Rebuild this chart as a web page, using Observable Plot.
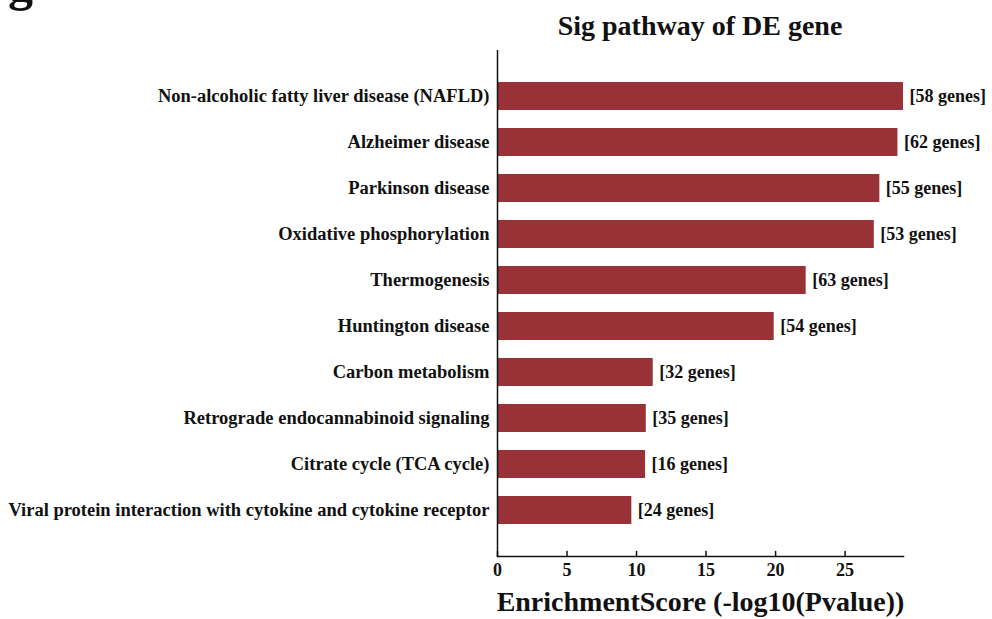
<!DOCTYPE html>
<html>
<head>
<meta charset="utf-8">
<script src="https://cdn.jsdelivr.net/npm/d3@7"></script>
<script src="https://cdn.jsdelivr.net/npm/@observablehq/plot@0.6"></script>
<style>
  html, body { margin: 0; padding: 0; background: #fff; }
  #wrap { position: relative; width: 992px; height: 619px; overflow: hidden; font-family: "Liberation Serif", "Times New Roman", serif; font-weight: bold; color: #111; }
  #panel { position: absolute; left: 8px; top: -42px; font-size: 50px; line-height: 50px; }
  #title { height: 48px; box-sizing: border-box; padding-top: 12px; line-height: 28px; font-size: 28px; padding-left: 497px; width: 903px; text-align: center; }
  #title span { display: inline-block; }
  svg { display: block; }
</style>
</head>
<body>
<div id="wrap">
  <div id="panel">g</div>
  <div id="title"><span>Sig pathway of DE gene</span></div>
  <div id="chart"></div>
</div>
<script>
// KEGG pathways enriched among differentially expressed genes
const pathways = [
  "Non-alcoholic fatty liver disease (NAFLD)",
  "Alzheimer disease",
  "Parkinson disease",
  "Oxidative phosphorylation",
  "Thermogenesis",
  "Huntington disease",
  "Carbon metabolism",
  "Retrograde endocannabinoid signaling",
  "Citrate cycle (TCA cycle)",
  "Viral protein interaction with cytokine and cytokine receptor"
];
// -log10(P value)
const scores = [29.2, 28.8, 27.5, 27.1, 22.2, 19.9, 11.2, 10.7, 10.65, 9.66];
// number of genes in each pathway
const geneCounts = [58, 62, 55, 53, 63, 54, 32, 35, 16, 24];
const xTicks = [0, 5, 10, 15, 20, 25];
const xLabel = "EnrichmentScore (-log10(Pvalue))";

const rows = pathways.map((p, i) => ({pathway: p, score: scores[i], genes: geneCounts[i]}));

// short inward tick, drawn upward from the x axis line
const tickShape = {draw(ctx, l) { ctx.moveTo(0, 0); ctx.lineTo(0, -l); }};

const chart = Plot.plot({
  width: 992,
  height: 571,
  marginLeft: 497,
  marginRight: 89,
  marginTop: 2,
  marginBottom: 63,
  style: {fontFamily: "Liberation Serif, Times New Roman, serif", fontWeight: "bold", fontSize: "18px", color: "#111", background: "#fff"},
  x: {domain: [0, d3.max(scores)], axis: null},
  y: {domain: pathways, padding: 0.39, insetTop: 14, insetBottom: 14},
  marks: [
    Plot.barX(rows, {x: "score", y: "pathway", fill: "#983236"}),
    Plot.text(rows, {x: "score", y: "pathway", text: d => `[${d.genes} genes]`, textAnchor: "start", dx: 6, fontSize: 18, fill: "#111"}),
    Plot.axisY({tickSize: 0, tickPadding: 8, fontSize: 18.5, label: null}),
    Plot.text(xTicks, {x: d => d, frameAnchor: "bottom", dy: 19, fontSize: 18, fill: "#111"}),
    Plot.vector(xTicks, {x: d => d, frameAnchor: "bottom", length: 5, anchor: "start", shape: tickShape, stroke: "#111", strokeWidth: 1.5}),
    Plot.ruleX([0], {stroke: "#111", strokeWidth: 1.5}),
    Plot.frame({anchor: "bottom", stroke: "#111", strokeWidth: 1.5}),
    Plot.text([xLabel], {frameAnchor: "bottom", dy: 54, fontSize: 28, fill: "#111"})
  ]
});
document.getElementById("chart").appendChild(chart);
</script>
</body>
</html>
